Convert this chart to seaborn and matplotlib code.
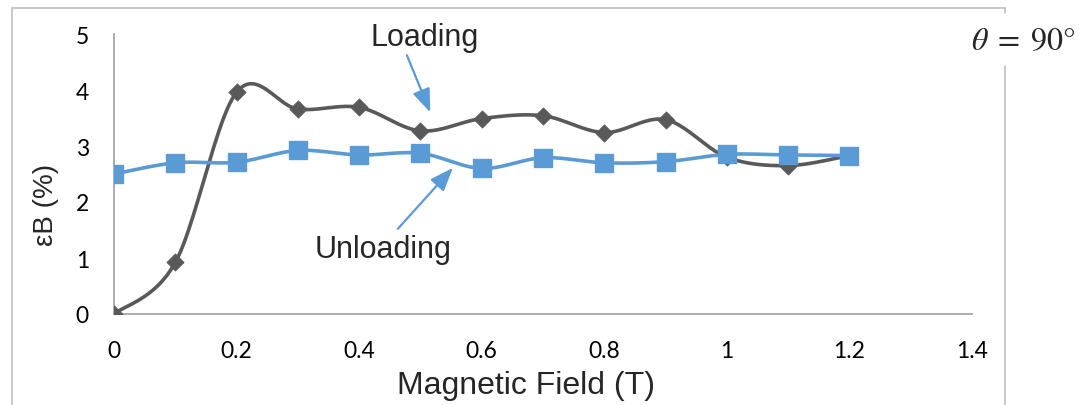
import matplotlib
matplotlib.use("Agg")
import matplotlib.pyplot as plt
from matplotlib.lines import Line2D
import seaborn as sns
import numpy as np
import pandas as pd

# values
field = [0, 0.1, 0.2, 0.3, 0.4, 0.5, 0.6, 0.7, 0.8, 0.9, 1.0, 1.1, 1.2]
loading = [0.0, 0.92, 3.96, 3.66, 3.69, 3.27, 3.49, 3.54, 3.24, 3.47, 2.80, 2.65, 2.83]
unloading = [2.50, 2.70, 2.71, 2.92, 2.84, 2.87, 2.60, 2.79, 2.70, 2.72, 2.85, 2.84, 2.83]

GRAY = "#595959"
BLUE = "#5b9bd5"
AXIS = "#a6a6a6"


def smooth_line(x, y, n=24):
    """Catmull-Rom curve through the points, like Excel's smoothed line."""
    p = np.column_stack([x, y]).astype(float)
    p = np.vstack([p[0], p, p[-1]])
    out = []
    t = np.linspace(0, 1, n, endpoint=False)[:, None]
    for i in range(1, len(p) - 2):
        p0, p1, p2, p3 = p[i - 1], p[i], p[i + 1], p[i + 2]
        m1 = (p2 - p0) / 2
        m2 = (p3 - p1) / 2
        h00 = 2 * t**3 - 3 * t**2 + 1
        h10 = t**3 - 2 * t**2 + t
        h01 = -2 * t**3 + 3 * t**2
        h11 = t**3 - t**2
        out.append(h00 * p1 + h10 * m1 + h01 * p2 + h11 * m2)
    out.append(p[-2][None, :])
    c = np.vstack(out)
    return c[:, 0], c[:, 1]


sns.set_style("white")
plt.rcParams["font.family"] = ["Liberation Sans", "DejaVu Sans"]
plt.rcParams["mathtext.fontset"] = "stix"

fig = plt.figure(figsize=(10.88, 4.06), dpi=100)
ax = fig.add_axes([114 / 1088, 1 - 315 / 406, (972 - 114) / 1088, 280 / 406])

pts = pd.DataFrame({"field": field, "Loading": loading, "Unloading": unloading})

lx, ly = smooth_line(field, loading)
ux, uy = smooth_line(field, unloading)
sns.lineplot(x=lx, y=ly, ax=ax, color=GRAY, lw=2.6, sort=False, estimator=None)
sns.lineplot(x=ux, y=uy, ax=ax, color=BLUE, lw=2.6, sort=False, estimator=None)
sns.scatterplot(data=pts, x="field", y="Loading", ax=ax, marker="D", s=75,
                color=GRAY, edgecolor=GRAY, zorder=4)
sns.scatterplot(data=pts, x="field", y="Unloading", ax=ax, marker="s", s=150,
                color=BLUE, edgecolor=BLUE, zorder=5)

ax.set_xlim(0, 1.4)
ax.set_ylim(0, 5)
ax.set_xticks([0, 0.2, 0.4, 0.6, 0.8, 1, 1.2, 1.4])
ax.set_xticklabels(["0", "0.2", "0.4", "0.6", "0.8", "1", "1.2", "1.4"])
ax.set_yticks([0, 1, 2, 3, 4, 5])
ax.set_yticklabels(["0", "1", "2", "3", "4", "5"])
ax.tick_params(axis="both", length=0, labelsize=16.5, colors="black")
ax.tick_params(axis="x", pad=19)
ax.tick_params(axis="y", pad=18)
for lab in ax.get_xticklabels() + ax.get_yticklabels():
    lab.set_family("Lato")
ax.set_xlabel("")
ax.set_ylabel("")
ax.patch.set_alpha(0)
for s in ["top", "right"]:
    ax.spines[s].set_visible(False)
for s in ["left", "bottom"]:
    ax.spines[s].set_color(AXIS)
    ax.spines[s].set_linewidth(1.3)

fig.text(526 / 1088, 1 - 386 / 406, "Magnetic Field (T)", fontsize=23,
         ha="center", va="center")
fig.text(46 / 1088, 1 - 205 / 406, "εB (%)", fontsize=20, rotation=90,
         ha="center", va="center")

arrow = dict(arrowstyle="-|>,head_length=1.1,head_width=0.42",
             color=BLUE, lw=1.6, mutation_scale=13, shrinkA=0, shrinkB=0)
ax.annotate("", xy=(0.516, 3.60), xytext=(0.478, 4.62), arrowprops=arrow)
ax.annotate("", xy=(0.553, 2.61), xytext=(0.463, 1.52), arrowprops=arrow)
ax.text(0.507, 4.95, "Loading", fontsize=22, ha="center", va="center")
ax.text(0.439, 1.16, "Unloading", fontsize=22, ha="center", va="center")

# outer chart frame (right side broken by the theta label)
W, H = 1088, 406
frame = dict(color="#bfbfbf", lw=1.2, transform=fig.transFigure)
fig.add_artist(Line2D([12 / W, 1005 / W], [1 - 9 / H, 1 - 9 / H], **frame))
fig.add_artist(Line2D([12 / W, 12 / W], [1 - 9 / H, 0], **frame))
fig.add_artist(Line2D([1005 / W, 1005 / W], [1 - 9 / H, 1 - 14 / H], **frame))
fig.add_artist(Line2D([1005 / W, 1005 / W], [1 - 67 / H, 0], **frame))

fig.text(1023 / W, 1 - 42 / H, r"$\theta\;=\;90°$", fontsize=23, ha="center",
         va="center")

fig.savefig("out.png", dpi=100)
